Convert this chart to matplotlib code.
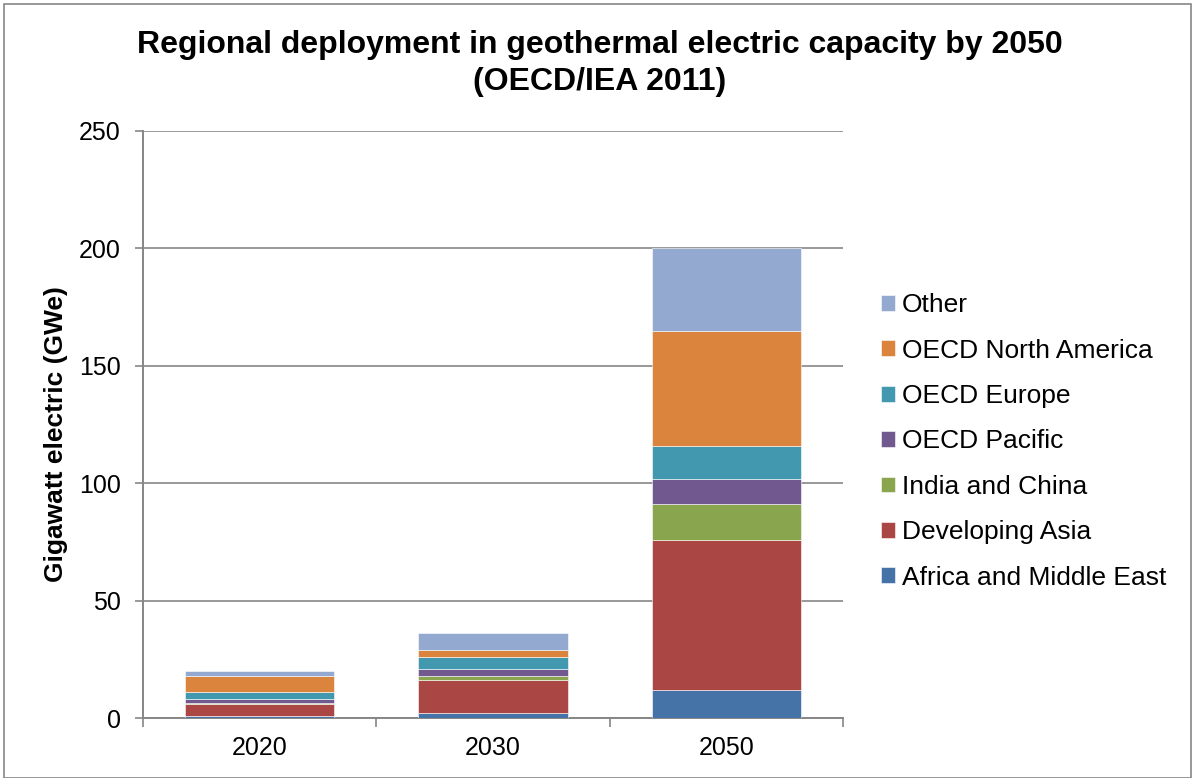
import matplotlib
matplotlib.use('Agg')
import matplotlib.pyplot as plt
import numpy as np

plt.rcParams['font.family'] = ['Liberation Sans', 'DejaVu Sans']

years = ['2020', '2030', '2050']
regions = ['Africa and Middle East', 'Developing Asia', 'India and China',
           'OECD Pacific', 'OECD Europe', 'OECD North America', 'Other']
africa = [1, 2, 12]
dev_asia = [5, 14, 64]
india_china = [0.3, 2, 15]
oecd_pacific = [1.7, 3, 11]
oecd_europe = [3, 5, 14]
oecd_na = [7, 3, 49]
other = [2, 7, 35]
colors = ['#4572A7', '#AA4643', '#89A54E', '#71588F', '#4198AF', '#DB843D', '#93A9CF']

series = [africa, dev_asia, india_china, oecd_pacific, oecd_europe, oecd_na, other]

fig = plt.figure(figsize=(11.95, 7.78), dpi=100)
ax = fig.add_axes([143/1195, 1-718/778, 700/1195, 587/778])

x = np.arange(len(years))
bottom = np.zeros(len(years))
for name, vals, c in zip(regions, series, colors):
    ax.bar(x, vals, width=0.64, bottom=bottom, color=c, label=name,
           edgecolor='white', linewidth=0.4, zorder=3)
    bottom += np.array(vals)

ax.set_xlim(-0.5, 2.5)
ax.set_ylim(0, 250)
ax.set_yticks(range(0, 251, 50))
ax.set_xticks(x)
ax.set_xticklabels(years)
ax.set_xticks([-0.5, 0.5, 1.5, 2.5], minor=True)
ax.tick_params(axis='x', which='major', length=0, pad=13, labelsize=18)
ax.tick_params(axis='x', which='minor', length=6.5, color='#868686', width=1.2)
ax.tick_params(axis='y', length=6, color='#868686', width=1.2, labelsize=18, pad=10)
ax.grid(axis='y', color='#868686', linewidth=1.2, zorder=0)
for s in ['top', 'right']:
    ax.spines[s].set_visible(False)
for s in ['left', 'bottom']:
    ax.spines[s].set_color('#868686')
    ax.spines[s].set_linewidth(1.4)

ax.set_ylabel('Gigawatt electric (GWe)', fontsize=19, fontweight='bold')
ax.yaxis.set_label_coords((68 - 143) / 700, (718 - 434) / 587)

fig.text(600/1195, 1-45/778, 'Regional deployment in geothermal electric capacity by 2050',
         ha='center', va='center', fontsize=23, fontweight='bold')
fig.text(600/1195, 1-82/778, '(OECD/IEA 2011)',
         ha='center', va='center', fontsize=23, fontweight='bold')

handles, labels = ax.get_legend_handles_labels()
ax.legend(handles[::-1], labels[::-1], loc='center left',
          bbox_to_anchor=(1.035, (718 - 441.5) / 587),
          frameon=False, fontsize=19, handlelength=0.55, handleheight=0.55,
          handletextpad=0.25, labelspacing=0.81, borderpad=0)

fig.patches.append(plt.Rectangle((4/1195, 0), 1187/1195, 1-4/778, transform=fig.transFigure,
                                 fill=False, edgecolor='#868686', linewidth=1.2))

fig.savefig('out.png', dpi=100)
